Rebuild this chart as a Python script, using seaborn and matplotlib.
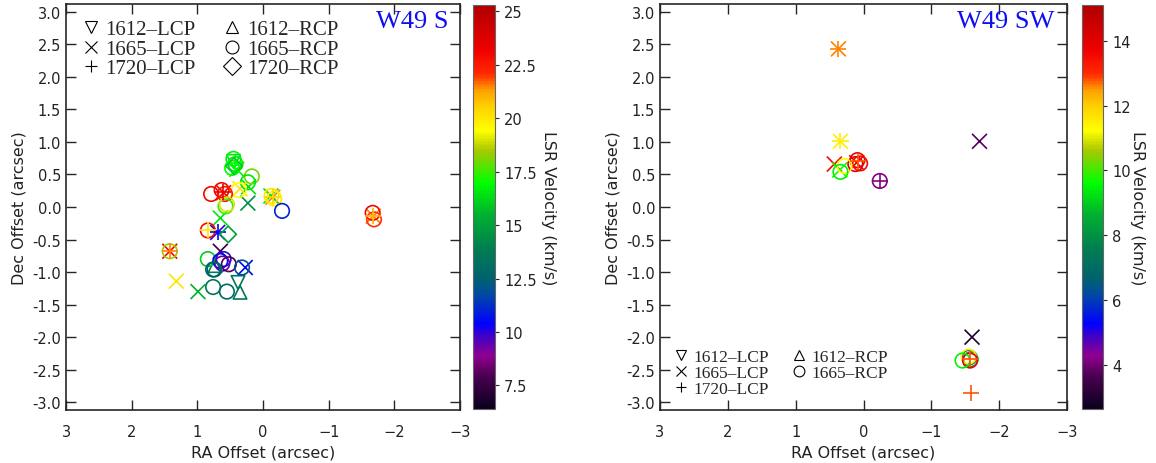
import numpy as np
import pandas as pd
import seaborn as sns
import matplotlib.pyplot as plt
from matplotlib.colors import LinearSegmentedColormap, Normalize
from matplotlib.cm import ScalarMappable
from matplotlib.lines import Line2D

sns.set_style("ticks")
plt.rcParams['font.family'] = ['DejaVu Sans']

# ---- W49 S maser spots: RA offset, Dec offset, transition, LSR velocity ----
s_ra = [1.42, 1.42, 1.42, 1.32, -1.67, -1.69, -1.68, -1.68,
        0.45, 0.42, 0.47, 0.45, 0.44, 0.40, 0.43, 0.17, 0.23, 0.22,
        0.37, 0.35, -0.13, -0.17, -0.15, -0.12, -0.15, -0.29,
        0.79, 0.63, 0.58, 0.61, 0.60, 0.57, 0.55, 0.23, 0.65,
        0.84, 0.84, 0.69, 0.69, 0.53, 0.65, 0.84, 0.65, 0.60, 0.62,
        0.52, 0.76, 0.73, 0.74, 0.27, 0.32, 0.99, 0.76, 0.55, 0.38, 0.35]
s_dec = [-0.68, -0.68, -0.68, -1.14, -0.09, -0.19, -0.14, -0.14,
         0.74, 0.66, 0.60, 0.70, 0.63, 0.58, 0.68, 0.47, 0.38, 0.31,
         0.26, 0.28, 0.17, 0.13, 0.15, 0.17, 0.15, -0.06,
         0.20, 0.26, 0.20, 0.23, 0.22, 0.01, 0.04, 0.06, -0.17,
         -0.36, -0.36, -0.39, -0.39, -0.42, -0.68, -0.80, -0.83, -0.80, -0.87,
         -0.88, -0.96, -0.90, -0.96, -0.93, -0.93, -1.30, -1.23, -1.30, -1.16, -1.31]
s_line = ['1665-LCP', '1665-RCP', '1720-LCP', '1665-LCP', '1665-RCP', '1665-RCP', '1665-LCP', '1720-LCP',
          '1665-RCP', '1665-RCP', '1665-RCP', '1612-LCP', '1720-RCP', '1665-LCP', '1720-LCP', '1665-RCP', '1665-RCP', '1665-LCP',
          '1665-RCP', '1665-LCP', '1665-RCP', '1665-RCP', '1665-LCP', '1665-LCP', '1720-LCP', '1665-RCP',
          '1665-RCP', '1665-RCP', '1665-RCP', '1720-LCP', '1665-LCP', '1665-RCP', '1665-RCP', '1665-LCP', '1665-LCP',
          '1665-RCP', '1720-LCP', '1665-LCP', '1720-LCP', '1720-RCP', '1665-LCP', '1665-RCP', '1665-RCP', '1665-RCP', '1665-RCP',
          '1665-RCP', '1665-RCP', '1612-RCP', '1665-RCP', '1665-LCP', '1665-RCP', '1665-LCP', '1665-RCP', '1665-RCP', '1612-LCP', '1612-RCP']
s_vel = [23.0, 18.5, 21.5, 20.0, 23.0, 22.0, 21.5, 21.0,
         16.8, 16.5, 17.0, 16.5, 16.0, 16.8, 17.0, 18.0, 16.5, 16.5,
         19.5, 20.0, 20.0, 19.8, 21.5, 16.5, 20.5, 11.0,
         23.0, 23.0, 22.5, 23.5, 23.0, 17.5, 19.0, 14.5, 16.5,
         23.0, 20.0, 10.0, 10.5, 15.0, 7.5, 16.0, 10.5, 10.0, 9.5,
         8.0, 13.0, 14.0, 12.5, 10.5, 12.0, 15.5, 13.5, 13.0, 13.5, 13.5]

# ---- W49 SW maser spots ----
sw_ra = [0.37, 0.37, 0.34, 0.34, 0.09, 0.05, 0.12, 0.08, 0.10, 0.43, 0.28, 0.34, 0.35,
         -0.24, -0.24, -1.71, -1.60, -1.56, -1.58, -1.55, -1.57, -1.46, -1.57, -1.59]
sw_dec = [2.43, 2.43, 1.01, 1.01, 0.72, 0.67, 0.66, 0.70, 0.68, 0.66, 0.63, 0.54, 0.57,
          0.40, 0.40, 1.01, -2.00, -2.31, -2.34, -2.30, -2.36, -2.36, -2.33, -2.86]
sw_line = ['1665-LCP', '1720-LCP', '1665-LCP', '1720-LCP', '1665-RCP', '1665-RCP', '1665-RCP', '1720-LCP', '1665-LCP',
           '1665-LCP', '1665-RCP', '1665-RCP', '1665-LCP', '1665-RCP', '1720-LCP', '1665-LCP', '1665-LCP',
           '1665-RCP', '1665-RCP', '1665-RCP', '1665-RCP', '1665-RCP', '1720-LCP', '1720-LCP']
sw_vel = [12.6, 12.6, 11.5, 11.5, 13.8, 13.5, 14.0, 12.8, 13.6, 13.5, 11.3, 9.5, 9.8,
          4.2, 4.2, 3.8, 3.0, 6.5, 8.5, 11.5, 13.8, 9.5, 12.8, 12.8]

markers = {'1612-LCP': 'v', '1612-RCP': '^', '1665-LCP': 'x',
           '1665-RCP': 'o', '1720-LCP': '+', '1720-RCP': 'D'}
sizes = {'v': 95, '^': 95, 'x': 115, 'o': 110, '+': 135, 'D': 70}

# rainbow table, black -> purple -> blue -> green -> yellow -> red
cmap = LinearSegmentedColormap.from_list('rb', [
    (0.00, '#0a0020'), (0.08, '#4a0050'), (0.13, '#900090'), (0.18, '#4000c8'),
    (0.21, '#0000ff'), (0.28, '#0048a8'), (0.32, '#006070'), (0.40, '#008050'),
    (0.48, '#00b030'), (0.56, '#00ff00'), (0.64, '#a8c800'), (0.69, '#ffff00'),
    (0.75, '#ffd000'), (0.79, '#ffa000'), (0.83, '#ff2a00'), (0.89, '#f00000'),
    (1.00, '#b00000')])

fig = plt.figure(figsize=(11.56, 4.64), dpi=100)
ax1 = fig.add_axes([66/1156, 53/464, 394/1156, 406/464])
cax1 = fig.add_axes([473/1156, 54/464, 22/1156, 404/464])
ax2 = fig.add_axes([660/1156, 53/464, 407/1156, 406/464])
cax2 = fig.add_axes([1082/1156, 54/464, 21/1156, 404/464])


def draw(ax, cax, ra, dec, line, vel, vmin, vmax, ticks, title, leg_items, leg_loc, leg_size, cb_pad):
    df = pd.DataFrame({'ra': ra, 'dec': dec, 'line': line, 'vel': vel})
    norm = Normalize(vmin, vmax)
    for name, m in markers.items():
        sub = df[df['line'] == name]
        if sub.empty:
            continue
        sns.scatterplot(data=sub, x='ra', y='dec', hue='vel', palette=cmap, hue_norm=norm,
                        marker=m, s=sizes[m], linewidth=1.2, legend=False, ax=ax)
        coll = ax.collections[-1]
        cols = cmap(norm(sub['vel'].values))
        coll.set_edgecolors(cols)
        if m in ('o', 'v', '^', 'D'):
            coll.set_facecolors('none')
        else:
            coll.set_facecolors(cols)
    ax.set_xlim(3, -3)
    ax.set_ylim(-3.12, 3.12)
    ax.set_xticks([3, 2, 1, 0, -1, -2, -3])
    ax.set_yticks(np.arange(-3, 3.01, 0.5))
    ax.yaxis.set_major_formatter(plt.FormatStrFormatter('%.1f'))
    ax.tick_params(direction='in', length=7, top=True, right=True, labelsize=10.5,
                   labelcolor='#222222', width=1)
    ax.tick_params(axis='x', pad=10)
    for sp in ax.spines.values():
        sp.set_linewidth(1.2)
    ax.set_xlabel('RA Offset (arcsec)', fontsize=11.5, color='#222222')
    ax.set_ylabel('Dec Offset (arcsec)', fontsize=11.5, color='#222222')
    ax.text(0.97, 0.985, title, transform=ax.transAxes, ha='right', va='top',
            color='#1010ee', fontsize=19, family='Liberation Serif')
    handles = [Line2D([], [], ls='none', marker=markers[k], color='black', mfc='none',
                      markersize=leg_size * 0.62, mew=0.8, label=k.replace('-', '\u2013'))
               for k in leg_items]
    ax.legend(handles=handles, loc=leg_loc, ncol=2, frameon=False, handletextpad=0.25,
              handlelength=0.9, columnspacing=1.3, labelspacing=0.0, borderaxespad=0.35,
              prop={'family': 'Liberation Serif', 'size': leg_size})
    sm = ScalarMappable(norm=norm, cmap=cmap)
    cb = fig.colorbar(sm, cax=cax, ticks=ticks)
    cb.outline.set_edgecolor('#666666')
    cb.ax.tick_params(labelsize=10.5, labelcolor='#222222', length=3)
    cb.set_label('LSR Velocity (km/s)', rotation=270, labelpad=cb_pad, fontsize=11.5, color='#222222')


draw(ax1, cax1, s_ra, s_dec, s_line, s_vel, 6.4, 25.3,
     [7.5, 10, 12.5, 15, 17.5, 20, 22.5, 25], 'W49 S',
     ['1612-LCP', '1665-LCP', '1720-LCP', '1612-RCP', '1665-RCP', '1720-RCP'], 'upper left', 15, 14)
cax1.set_yticklabels(['7.5', '10', '12.5', '15', '17.5', '20', '22.5', '25'])
draw(ax2, cax2, sw_ra, sw_dec, sw_line, sw_vel, 2.65, 15.1,
     [4, 6, 8, 10, 12, 14], 'W49 SW',
     ['1612-LCP', '1665-LCP', '1720-LCP', '1612-RCP', '1665-RCP'], 'lower left', 12.5, 10)

fig.savefig('out.png', dpi=100)
